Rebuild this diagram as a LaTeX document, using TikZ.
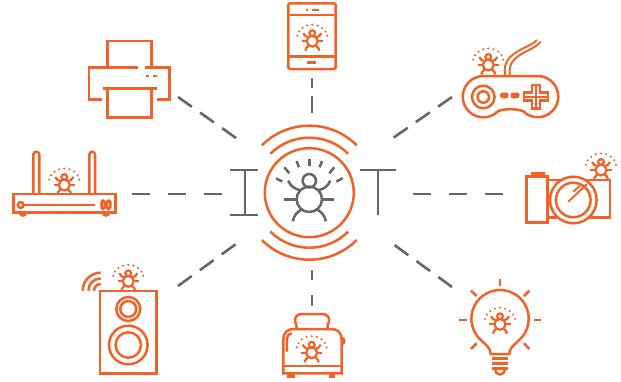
\documentclass[tikz,border=0pt]{standalone}
\definecolor{iotorange}{HTML}{F26125}
\definecolor{iotgray}{HTML}{666666}
\tikzset{
  dev/.style={draw=iotorange,line width=2.5pt,line cap=butt,line join=miter},
  devthin/.style={draw=iotorange,line width=1.9pt},
  hubring/.style={draw=iotorange,line width=2.5pt},
  hubbug/.style={draw=iotgray,line width=2.5pt},
  link/.style={draw=iotgray,line width=2.6pt},
}
\newcommand{\bugcore}{%
  \draw (0,0) circle[radius=12.7];
  \draw (0,-18.6) circle[radius=6.7];
  \draw (-21,-18.7) .. controls (-19,-13) and (-14,-10) .. (-8.5,-9);
  \draw (21,-18.7) .. controls (19,-13) and (14,-10) .. (8.5,-9);
  \draw (-25,0) -- (-12.7,0);
  \draw (25,0) -- (12.7,0);
  \draw (-16.5,22) .. controls (-15.5,16) and (-12,12.5) .. (-8,10.5);
  \draw (16.5,22) .. controls (15.5,16) and (12,12.5) .. (8,10.5);
}
\newcommand{\smallbug}[2]{%
  \begin{scope}[shift={(#1,#2)}]
    \begin{scope}[scale=.43,dev,line width=2.2pt]\bugcore\end{scope}
    \foreach \a in {10,30,...,170}
      \fill[iotorange] ({15.2*cos(\a)},{-3-13.5*sin(\a)}) circle[radius=1.15];
  \end{scope}%
}
\begin{document}
\begin{tikzpicture}[x=1pt,y=-1pt]
\useasboundingbox (0,0) rectangle (621,381);
\fill[white] (0,0) rectangle (621,381);

% connector end points
\coordinate (hubN) at (312,113);   \coordinate (phone) at (312,78);
\coordinate (hubS) at (312,270);   \coordinate (toaster) at (312,306);
\coordinate (hubW) at (222,194);   \coordinate (router) at (132,194);
\coordinate (hubE) at (413,194);   \coordinate (camera) at (503,194);
\coordinate (hubNW) at (236,138);  \coordinate (printer) at (178,97);
\coordinate (hubNE) at (393,138);  \coordinate (gamepad) at (452,97);
\coordinate (hubSW) at (236,244);  \coordinate (speaker) at (178,286);
\coordinate (hubSE) at (393,244);  \coordinate (bulb) at (452,287);

\begin{scope}[link]
  \draw[dash pattern=on 10pt off 8pt on 17pt off 100pt] (phone) -- (hubN);
  \draw[dash pattern=on 10pt off 15pt on 11pt off 100pt] (hubS) -- (toaster);
  \draw[dash pattern=on 18pt off 18pt] (router) -- (hubW);
  \draw[dash pattern=on 18pt off 18pt] (hubE) -- (camera);
  \draw[dash pattern=on 17pt off 10pt] (printer) -- (hubNW);
  \draw[dash pattern=on 17pt off 10pt] (gamepad) -- (hubNE);
  \draw[dash pattern=on 17pt off 10pt] (speaker) -- (hubSW);
  \draw[dash pattern=on 17pt off 10pt] (bulb) -- (hubSE);
\end{scope}

% hub
\begin{scope}[shift={(309.3,192.7)},hubring]
  \draw (0,0) circle[radius=44.5];
  \draw ({55*cos(225)},{55*sin(225)}) arc[start angle=225,end angle=315,radius=55];
  \draw ({67*cos(225)},{67*sin(225)}) arc[start angle=225,end angle=315,radius=67];
  \draw ({55*cos(135)},{55*sin(135)}) arc[start angle=135,end angle=45,radius=55];
  \draw ({67*cos(135)},{67*sin(135)}) arc[start angle=135,end angle=45,radius=67];
\end{scope}
\begin{scope}[shift={(309.3,199.3)},hubbug]
  \bugcore
  \draw (0,-40) -- (0,-33.3);
  \draw (-12.7,-38.3) -- (-10.3,-32);
  \draw (12.7,-38.3) -- (10.3,-32);
  \draw (-25,-32) -- (-20,-26);
  \draw (25,-32) -- (20,-26);
  \draw (-33.3,-21) -- (-27,-17.7);
  \draw (33.3,-21) -- (27,-17.7);
\end{scope}
\begin{scope}[hubbug]
  \draw (230,170) -- (258,170);
  \draw (230,215) -- (258,215);
  \draw (245,170) -- (245,215);
  \draw (360,170) -- (396,170);
  \draw (378,170) -- (378,215);
\end{scope}

% phone
\draw[dev,rounded corners=1.5pt] (288.3,3.3) rectangle (335.7,69);
\draw[dev] (288.3,15) -- (335.7,15);
\draw[dev] (288.3,56.7) -- (335.7,56.7);
\draw[dev] (305.5,10) -- (308,10);
\draw[dev] (312,10) -- (318.5,10);
\draw[dev] (307,62.5) -- (315.5,62.5);
\smallbug{312.3}{41.2}

% printer
\draw[dev] (107.3,66.7) -- (107.3,41) -- (151.7,41) -- (151.7,66.7);
\draw[dev] (138.3,67.3) -- (89,67.3) -- (89,99.3) -- (101.7,99.3);
\draw[dev] (145,67.3) -- (169.3,67.3) -- (169.3,99.3) -- (157.3,99.3);
\draw[dev] (102.7,88.3) -- (156.7,88.3);
\draw[dev] (107.3,88.3) -- (107.3,117.7) -- (151.7,117.7) -- (151.7,88.3);
\draw[dev] (146,76) -- (149.3,76);
\draw[dev] (153.3,76) -- (156.7,76);

% gamepad
\draw[dev] (483.3,76) -- (537.7,76) arc[start angle=-90,end angle=135,radius=20.6]
  .. controls (517,108.5) and (504,108.5) .. (497.9,111.3)
  arc[start angle=45,end angle=270,radius=20.6] -- cycle;
\draw[dev] (483.3,97) circle[radius=11.3];
\draw[dev] (483.3,97) circle[radius=5.7];
\fill[iotorange,rounded corners=2.4pt] (500,92.5) rectangle (508.5,98.3);
\fill[iotorange,rounded corners=2.4pt] (510.5,92.5) rectangle (519.5,98.3);
\draw[dev] (532,85) -- (540,85) -- (540,92.7) -- (548,92.7) -- (548,100.7) -- (540,100.7) -- (540,108.7) -- (532,108.7) -- (532,100.7) -- (524,100.7) -- (524,92.7) -- (532,92.7) -- cycle;
\draw[devthin] (536,85) -- (536,108.7);
\draw[devthin] (524,96.7) -- (548,96.7);
\draw[devthin] (505,75) .. controls (503,61) and (511,55) .. (520,50) .. controls (528,46) and (533,44) .. (537,40);
\draw[devthin] (510,75) .. controls (508,63) and (515,58) .. (523,53) .. controls (531,49) and (536,47) .. (540.7,41.7);
\smallbug{488.3}{65}

% router
\draw[dev] (33.3,194) -- (33.3,154.7) arc[start angle=180,end angle=360,radius=3] -- (39.3,194);
\draw[dev] (89.3,194) -- (89.3,154.7) arc[start angle=180,end angle=360,radius=2.9] -- (95.1,194);
\draw[dev] (13.3,194) rectangle (115.7,212.3);
\draw[dev] (20.7,205) circle[radius=2.9];
\draw[dev] (23.6,205) -- (95,205);
\draw[dev,rounded corners=1.5pt] (101.5,200.5) rectangle (104.7,209);
\draw[dev,rounded corners=1.5pt] (107,200.5) rectangle (110.3,209);
\draw[dev] (19.8,212.3) arc[start angle=180,end angle=0,radius=3.2];
\draw[dev] (102.8,212.3) arc[start angle=180,end angle=0,radius=3.2];
\smallbug{64.3}{185}

% speaker
\draw[dev] (100,291) rectangle (156.7,373.3);
\draw[dev] (128.3,309) circle[radius=12];
\draw[dev] (128.3,309) circle[radius=8];
\draw[dev] (128.3,345) circle[radius=19.3];
\draw[dev] (128.3,345) circle[radius=12.7];
\draw[dev] (82.7,290.7) arc[start angle=180,end angle=270,radius=18];
\draw[dev] (88.4,290.7) arc[start angle=180,end angle=270,radius=12.3];
\draw[dev] (94,290.7) arc[start angle=180,end angle=270,radius=6.7];
\smallbug{128.3}{281.3}

% toaster
\draw[dev] (296.7,329) .. controls (296.7,324) and (294.5,322) .. (295,320) .. controls (295.5,316) and (298,314) .. (302,314) -- (322,314) .. controls (326,314) and (328.8,316) .. (329.2,320) .. controls (329.5,322) and (327.3,324) .. (327.3,329);
\draw[dev] (293.5,329) -- (331.5,329) .. controls (338,329) and (341.7,333) .. (341.7,340) -- (341.7,371) -- (341.7,373.3) -- (283.3,373.3) -- (283.3,340) .. controls (283.3,333) and (287,329) .. (293.5,329) -- cycle;
\draw[dev] (283.3,366) -- (341.7,366);
\draw[dev] (286.9,351.7) -- (286.9,339) .. controls (286.9,336) and (288.5,334) .. (291.7,333.3);
\draw[dev] (342,338) .. controls (345,338.5) and (345,343.5) .. (342,344);
\fill[iotorange] (287.3,373) rectangle (294.5,377.5);
\fill[iotorange] (329,373) rectangle (334.5,377.5);
\smallbug{311.7}{352.7}

% bulb
\draw[dev] (490.7,354) .. controls (490.5,347) and (485,344.5) .. (481.6,340.7)
  arc[start angle=130,delta angle=280,radius=28.7]
  .. controls (515,344.5) and (509.5,347) .. (509.3,354) -- cycle;
\draw[dev] (492,358.5) -- (508,358.5);
\draw[dev] (492,363.5) -- (508,363.5);
\draw[dev] (492,368.5) -- (508,368.5);
\draw[dev] (495,369.5) arc[start angle=180,end angle=0,radius=5];
\draw[dev] (500,279.3) -- (500,286);
\draw[dev] (471,290.7) -- (476.7,296);
\draw[dev] (529.3,290.7) -- (524,296);
\draw[dev] (459.3,320) -- (466.7,320);
\draw[dev] (534,320) -- (541,320);
\draw[dev] (471,349) -- (476.7,343.3);
\draw[dev] (529.3,349) -- (524,343.3);
\smallbug{500}{324.3}

% camera
\draw[dev] (547.7,180) -- (610,180) -- (610,217.7) -- (547.7,217.7);
\draw[dev] (526.7,176.7) rectangle (547.7,222.3);
\draw[dev] (532.3,176.7) -- (532.3,173.3) -- (543.3,173.3) -- (543.3,176.7);
\draw[dev,fill=white] (573.3,200) circle[radius=23.3];
\draw[dev] (573.3,200) circle[radius=17.3];
\draw[devthin] (568.3,201.7) -- (586.7,184.3);
\draw[devthin] (573.3,191.7) -- (580,185.7);
\smallbug{601}{170}
\end{tikzpicture}
\end{document}
